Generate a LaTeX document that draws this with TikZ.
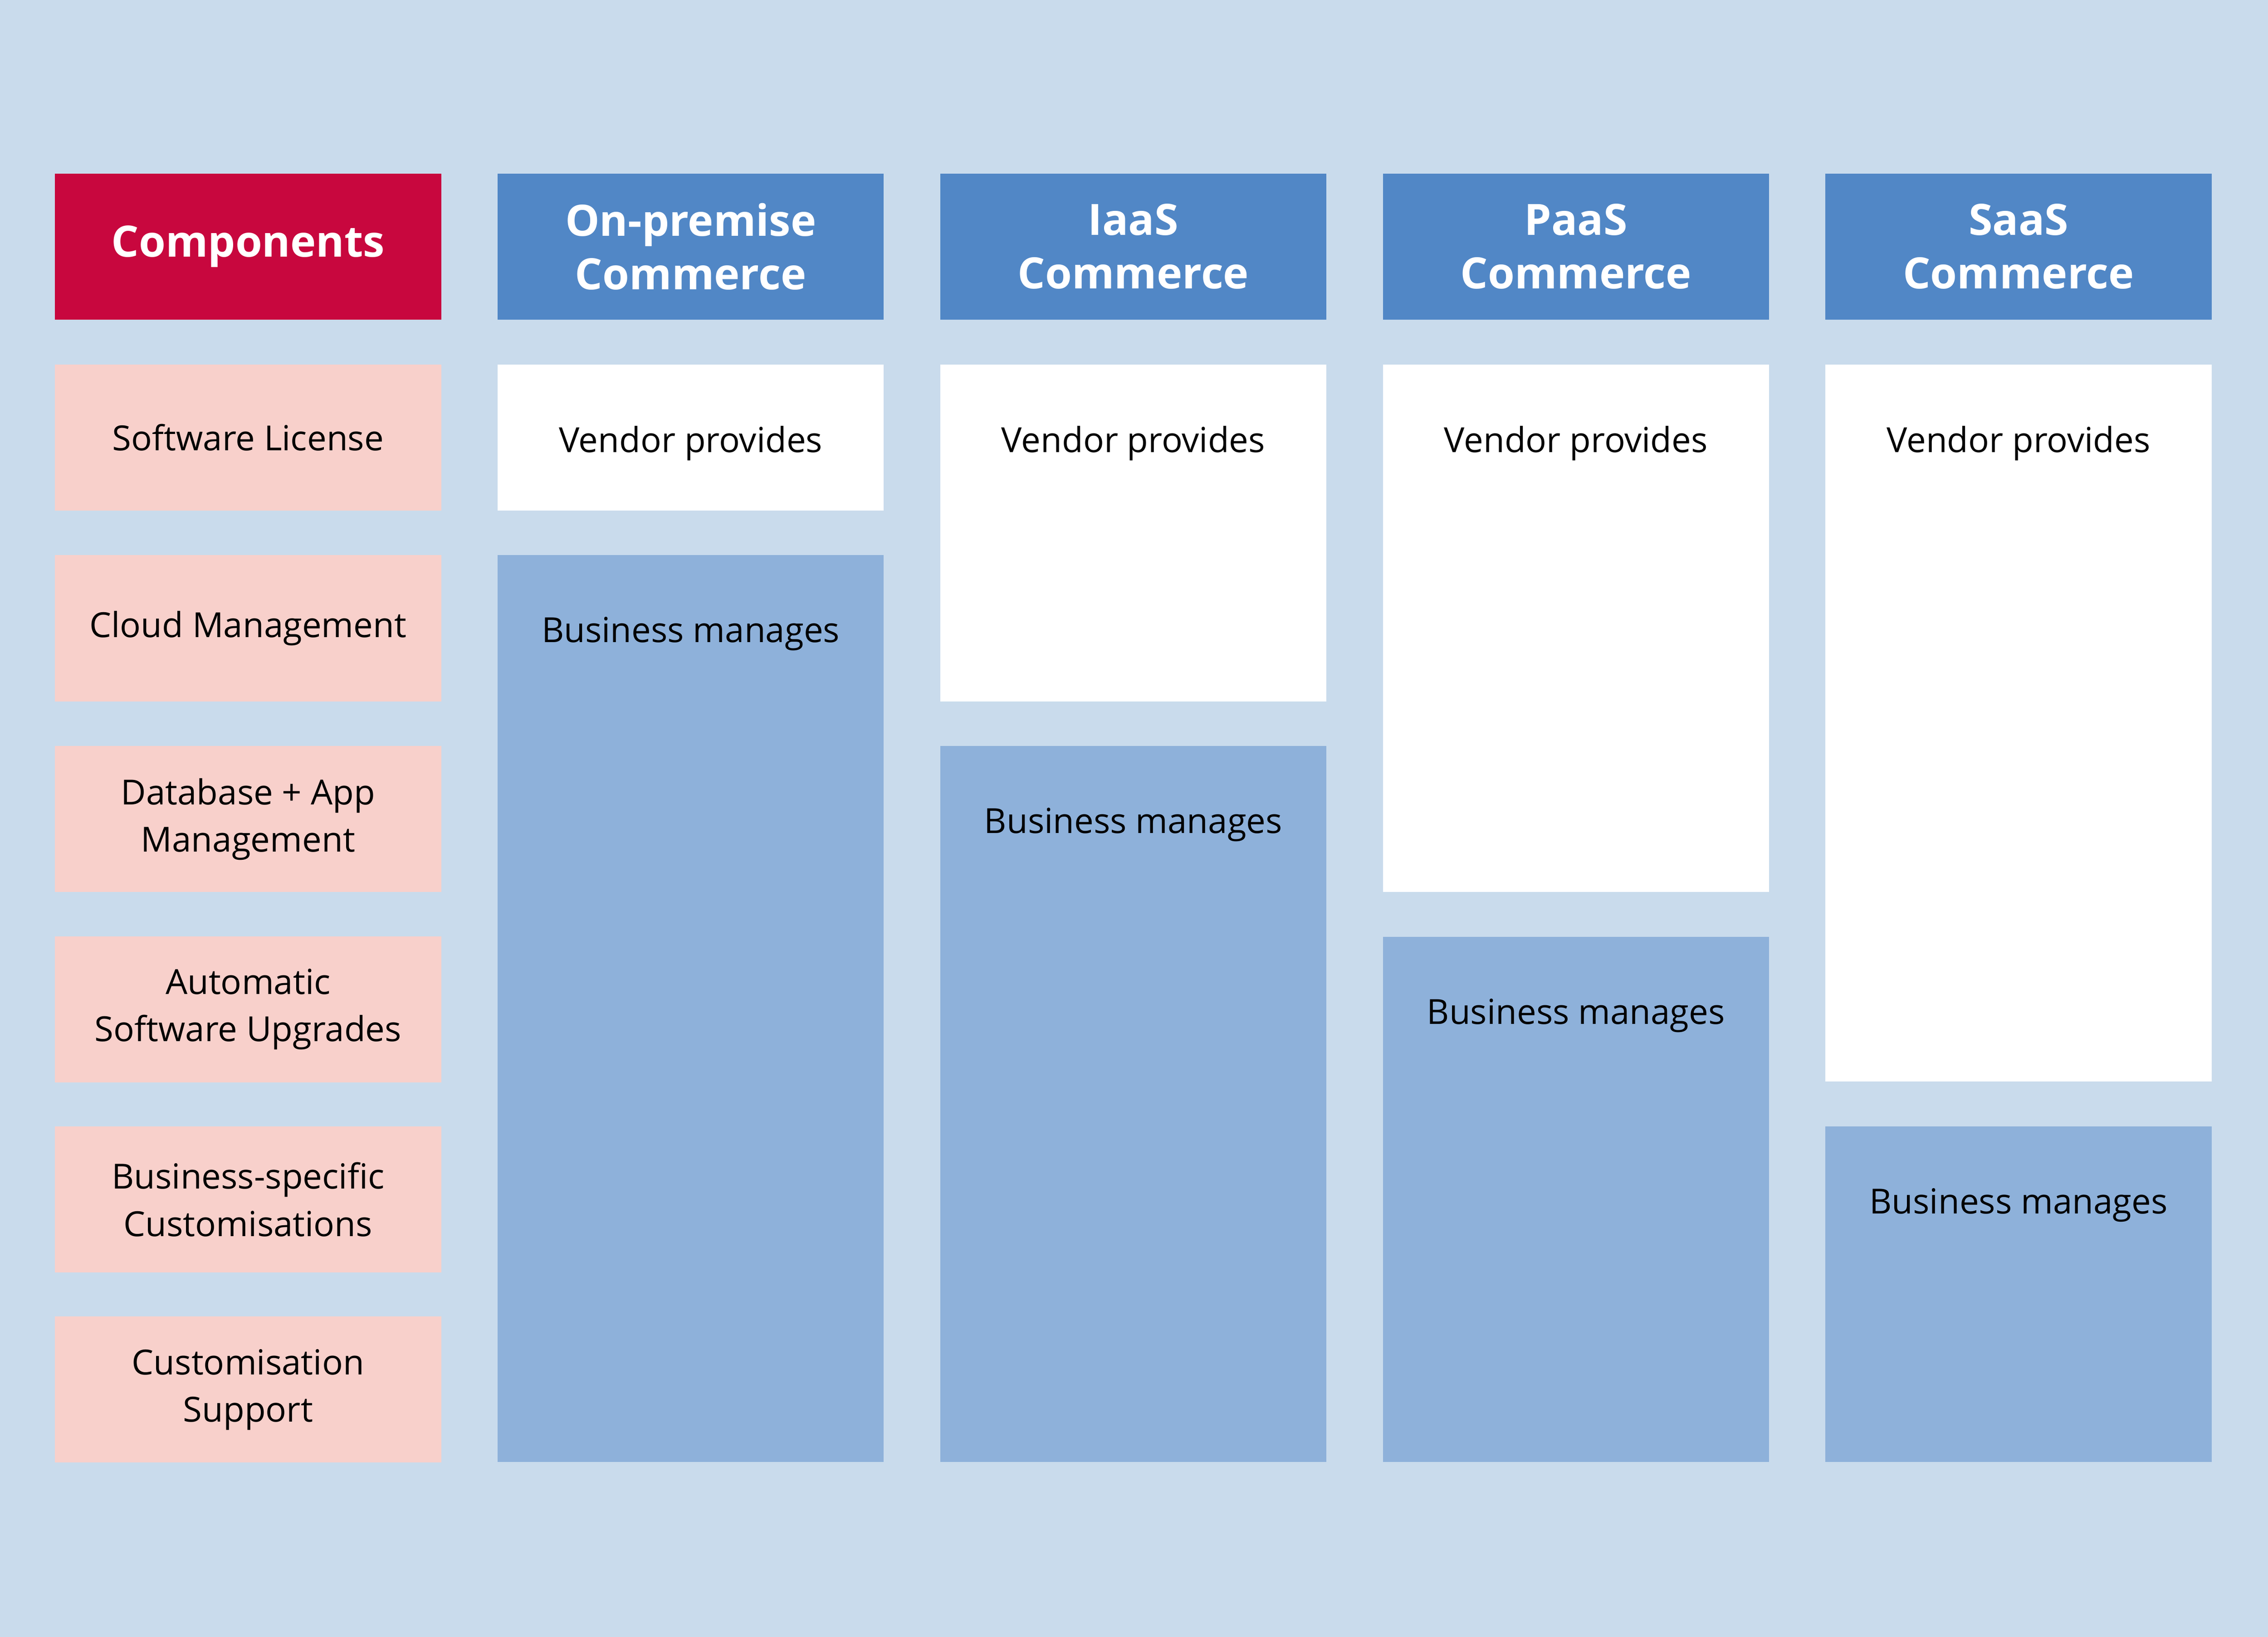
\documentclass[tikz,border=0pt]{standalone}
\usepackage{fontspec}
\setmainfont{Open Sans}
\usetikzlibrary{positioning}
\definecolor{bgblue}{HTML}{C9DBEC}
\definecolor{headblue}{HTML}{5187C6}
\definecolor{headred}{HTML}{C8073E}
\definecolor{rowpink}{HTML}{F8D0CB}
\definecolor{bizblue}{HTML}{8EB1DA}
\begin{document}
\begin{tikzpicture}[box/.style={rectangle,minimum width=2.67cm,inner sep=0pt,outer sep=0pt},
				head/.style={box,minimum height=1.01cm,fill=headblue,text=white,align=center,
					font=\fontsize{8.5}{10.5}\selectfont\bfseries},
				comp/.style={box,minimum height=1.01cm,fill=rowpink,align=center,
					font=\fontsize{6.8}{9.3}\selectfont},
				txt/.style={inner sep=0pt,font=\fontsize{6.8}{9.3}\selectfont}]
	\fill[bgblue] (0,0) rectangle (15.68,-11.32);
	% header row
	\node[head,fill=headred] (H0) at (1.715,-1.705) {Components};
	\node[head] (H1) at (4.775,-1.705) {On-premise\\Commerce};
	\node[head] (H2) at (7.835,-1.705) {IaaS\\Commerce};
	\node[head] (H3) at (10.895,-1.705) {PaaS\\Commerce};
	\node[head] (H4) at (13.955,-1.705) {SaaS\\Commerce};
	% components
	\node[comp] (C1) at (1.715,-3.025) {Software License};
	\node[comp] (C2) at (1.715,-4.345) {Cloud Management};
	\node[comp] (C3) at (1.715,-5.665) {Database + App\\Management};
	\node[comp] (C4) at (1.715,-6.98) {Automatic\\Software Upgrades};
	\node[comp] (C5) at (1.715,-8.295) {Business-specific\\Customisations};
	\node[comp] (C6) at (1.715,-9.61) {Customisation\\Support};
	% vendor boxes
	\node[box,fill=white,minimum height=1.01cm] (V1) at (4.775,-3.025) {};
	\node[box,fill=white,minimum height=2.33cm] (V2) at (7.835,-3.685) {};
	\node[box,fill=white,minimum height=3.65cm] (V3) at (10.895,-4.345) {};
	\node[box,fill=white,minimum height=4.96cm] (V4) at (13.955,-5.0) {};
	% business boxes
	\node[box,fill=bizblue,minimum height=6.27cm] (B1) at (4.775,-6.975) {};
	\node[box,fill=bizblue,minimum height=4.95cm] (B2) at (7.835,-7.635) {};
	\node[box,fill=bizblue,minimum height=3.63cm] (B3) at (10.895,-8.295) {};
	\node[box,fill=bizblue,minimum height=2.32cm] (B4) at (13.955,-8.95) {};
	\foreach \i in {1,...,4} {
		\node[txt,below=0.42cm of V\i.north] (VT\i) {Vendor provides};
		\node[txt,below=0.42cm of B\i.north] (BT\i) {Business manages};
	}
\end{tikzpicture}
\end{document}
